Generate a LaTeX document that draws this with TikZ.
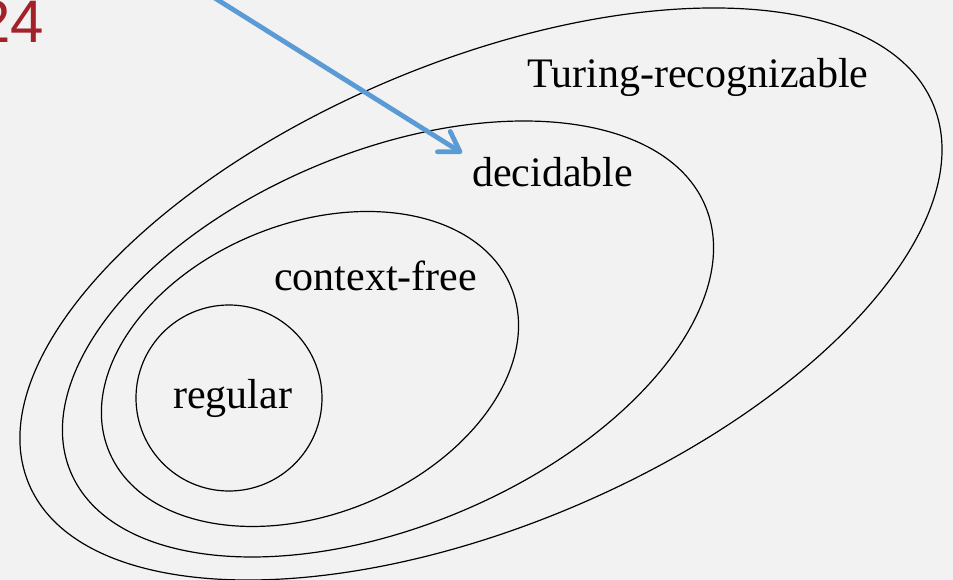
\documentclass[tikz,border=0pt]{standalone}
\usepackage{fontspec}
\setmainfont{Liberation Serif}
\newfontfamily\numfont{Liberation Sans}
\usetikzlibrary{arrows.meta}
\definecolor{bgc}{HTML}{F2F2F2}
\definecolor{arrowblue}{HTML}{5B9BD5}
\definecolor{numred}{HTML}{A3222A}
\tikzset{
  setline/.style={draw=black, line width=1.2pt},
  setlabel/.style={font=\fontsize{42}{50}\selectfont, anchor=base west, inner sep=0pt, text=black},
  bluearrow/.style={draw=arrowblue, line width=4.8pt, -{Straight Barb[length=19pt,width=24pt,round]}}
}
\begin{document}
\begin{tikzpicture}[x=1pt,y=-1pt]
\useasboundingbox (0,0) rectangle (953,580);
\fill[bgc] (0,0) rectangle (953,580);
\clip (0,0) rectangle (953,580);
% centres of the sets
\coordinate (ctr) at (481,294);
\coordinate (cdec) at (388,339);
\coordinate (ccf) at (310,369);
\coordinate (creg) at (229,398);
% Turing-recognizable
\draw[setline, rotate around={22.78:(ctr)}] (ctr) ellipse[x radius=490.4pt, y radius=232pt];
% decidable
\draw[setline, rotate around={22.73:(cdec)}] (cdec) ellipse[x radius=344.1pt, y radius=187.3pt];
% context-free
\draw[setline, rotate around={22.1:(ccf)}] (ccf) ellipse[x radius=217.2pt, y radius=145.3pt];
% regular
\draw[setline] (creg) circle[radius=93pt];
\node[setlabel] (tr) at (527,88) {Turing-recognizable};
\node[setlabel] (dec) at (472,187) {decidable};
\node[setlabel] (cf) at (274,290) {context-free};
\node[setlabel] (reg) at (173,408) {regular};
\node[font=\numfont\fontsize{60}{70}\selectfont, text=numred, anchor=base east, inner sep=0pt] (num) at (44,43) {24};
\coordinate (astart) at (186,-20);
\coordinate (aend) at (462,153);
\draw[bluearrow] (astart) -- (aend);
\end{tikzpicture}
\end{document}
